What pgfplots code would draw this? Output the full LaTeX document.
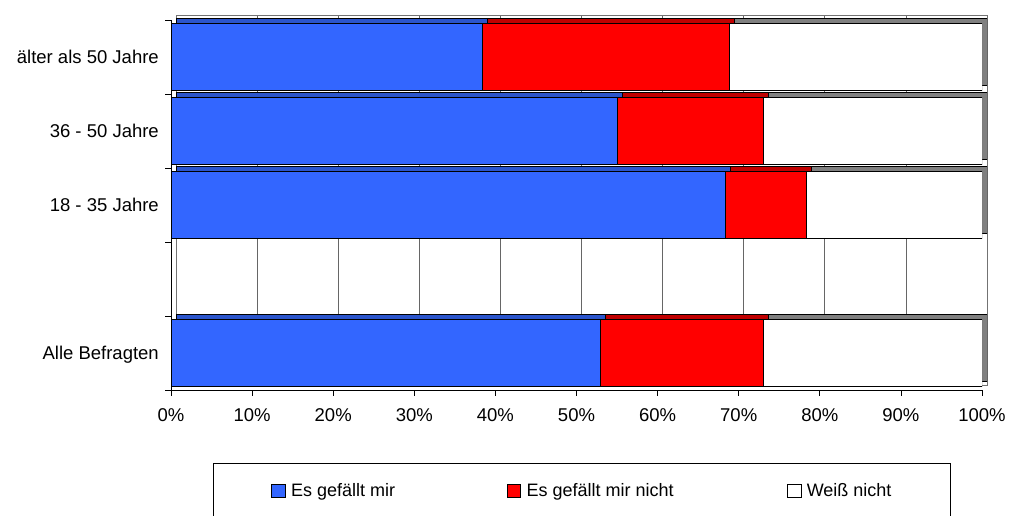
\documentclass[border=0pt]{standalone}
\usepackage{fontspec}
\setmainfont{Liberation Sans}
\usepackage{pgfplots}
\usepackage{pgfplotstable}
\pgfplotsset{compat=1.18}

\definecolor{likeblue}{HTML}{3366FF}
\definecolor{likebluetop}{HTML}{2B55CC}
\definecolor{dislikered}{HTML}{FF0000}
\definecolor{dislikeredtop}{HTML}{C00000}
\definecolor{sidegrey}{HTML}{808080}

% rows: 0 = Alle Befragten, 1 = empty, 2 = 18-35, 3 = 36-50, 4 = aelter als 50
\pgfplotstableread{
row like dislike dunno
0 53.0 20.1 26.9
2 68.4 10.0 21.6
3 55.0 18.1 26.9
4 38.4 30.4 31.2
}\answers

\pgfplotsset{
  barbase/.style={
    scale only axis, width=811pt, height=370pt,
    xmin=0, xmax=100, ymin=-0.5, ymax=4.5,
    xbar stacked, bar width=67.4pt,
    anchor=south west,
  },
  legimg/.style={
    legend image code/.code={\draw[##1,draw=black,line width=0.8pt] (0pt,-6.5pt) rectangle (13.5pt,6.5pt);}
  },
}

\begin{document}
\begin{tikzpicture}
\path[use as bounding box] (0,0) rectangle (1011pt,516pt);

% back wall and depth faces of the bars
\begin{axis}[barbase, at={(176pt,131pt)},
  axis lines=box, axis line style={black!55, line width=0.8pt},
  xtick={0,10,...,100}, xticklabels={}, ytick=\empty,
  major tick length=0pt,
  xmajorgrids, major grid style={black!60, line width=0.8pt},
]
\addplot[fill=likebluetop, draw=black, line width=0.8pt] table[x=like, y=row] \answers;
\addplot[fill=dislikeredtop, draw=black, line width=0.8pt] table[x=dislike, y=row] \answers;
\addplot[fill=sidegrey, draw=black, line width=0.8pt] table[x=dunno, y=row] \answers;
\end{axis}

% front faces
\begin{axis}[barbase, at={(171pt,126pt)},
  axis x line*=bottom, axis y line*=left,
  axis line style={black, line width=0.8pt},
  tick align=outside, major tick length=6pt, minor tick length=6pt,
  tick style={black, line width=0.8pt},
  xtick={0,10,...,100},
  xticklabels={0\%,10\%,20\%,30\%,40\%,50\%,60\%,70\%,80\%,90\%,100\%},
  ytick={0,2,3,4},
  yticklabels={Alle Befragten,18 - 35 Jahre,36 - 50 Jahre,älter als 50 Jahre},
  minor ytick={-0.5,0.5,...,4.5},
  every major y tick/.append style={draw=none},
  xticklabel style={font=\fontsize{18.5pt}{22pt}\selectfont, inner sep=0pt, yshift=-12pt},
  yticklabel style={font=\fontsize{18.5pt}{22pt}\selectfont, inner sep=0pt, xshift=-6pt,
    text height=13.5pt, text depth=0pt},
  legend columns=3,
  legend style={at={(0.0518,0)}, anchor=north west, yshift=-73pt,
    draw=black, line width=0.8pt, inner xsep=58pt, inner ysep=18pt,
    font=\fontsize{18pt}{22pt}\selectfont},
]
\addplot[fill=likeblue, draw=black, line width=0.8pt, legimg] table[x=like, y=row] \answers;
\addplot[fill=dislikered, draw=black, line width=0.8pt, legimg] table[x=dislike, y=row] \answers;
\addplot[fill=white, draw=black, line width=0.8pt, legimg] table[x=dunno, y=row] \answers;
\addlegendentry{\makebox[217pt][l]{\hspace{3.5pt}Es gefällt mir}}
\addlegendentry{\makebox[262pt][l]{\hspace{3.5pt}Es gefällt mir nicht}}
\addlegendentry{\makebox[87pt][l]{\hspace{3.5pt}Weiß nicht}}
\end{axis}
\end{tikzpicture}
\end{document}
